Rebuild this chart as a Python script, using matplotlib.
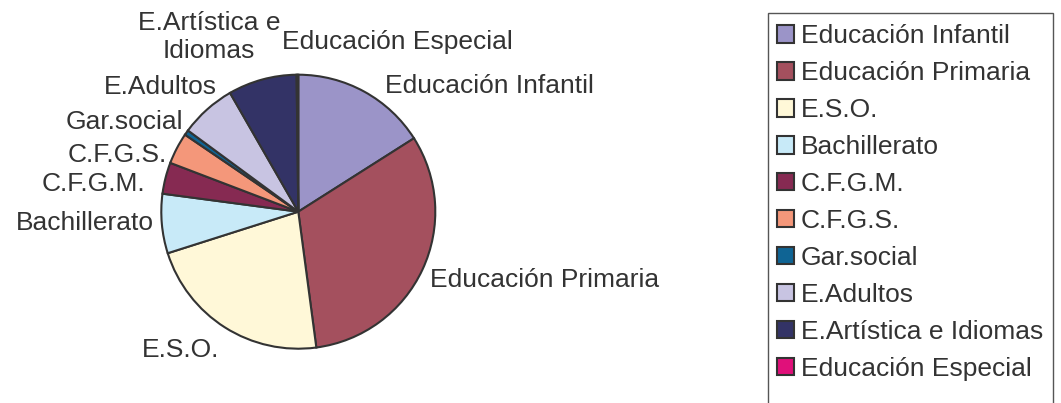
import matplotlib.pyplot as plt
from matplotlib.patches import Rectangle

plt.rcParams['font.family'] = ['Liberation Sans', 'DejaVu Sans']

categorias = ['Educación Infantil', 'Educación Primaria', 'E.S.O.', 'Bachillerato',
              'C.F.G.M.', 'C.F.G.S.', 'Gar.social', 'E.Adultos',
              'E.Artística e Idiomas', 'Educación Especial']
valores = [16.0, 31.9, 22.2, 7.0, 3.7, 3.7, 0.6, 6.6, 8.1, 0.2]
colores = ['#9b94c8', '#a4505e', '#fff8d8', '#c8eaf8', '#862a52',
           '#f4977a', '#0f6494', '#c8c4e2', '#333366', '#e0107a']
etiquetas = ['Educación Infantil', 'Educación Primaria', 'E.S.O.', 'Bachillerato',
             'C.F.G.M.', 'C.F.G.S.', 'Gar.social', 'E.Adultos',
             'E.Artística e\nIdiomas', 'Educación Especial']

# label placement (pie radius = 1), layout only
pos_etq = [(0.633, 0.918, 'left'), (0.961, -0.499, 'left'), (-0.858, -1.009, 'center'),
           (-1.053, -0.085, 'right'), (-1.119, 0.200, 'right'), (-0.961, 0.414, 'right'),
           (-0.839, 0.657, 'right'), (-0.596, 0.912, 'right'), (-0.652, 1.274, 'center'),
           (-0.121, 1.241, 'left')]

W, H = 1061, 403
fig = plt.figure(figsize=(W / 100, H / 100), dpi=100)
cx, cy, r = 298.3, 211.7, 137
ax = fig.add_axes([(cx - r) / W, (H - cy - r) / H, 2 * r / W, 2 * r / H])

wedges, _ = ax.pie(valores, colors=colores, startangle=90, counterclock=False,
                   radius=1, wedgeprops=dict(edgecolor='#333333', linewidth=1.5))
ax.set_xlim(-1, 1)
ax.set_ylim(-1, 1)
ax.set_aspect('equal')
ax.axis('off')
for w in wedges:
    w.set_clip_on(False)

txt = '#333333'
for lab, (x, y, ha) in zip(etiquetas, pos_etq):
    ax.text(x, y, lab, ha=ha, va='center', fontsize=19, color=txt,
            multialignment='center', linespacing=1.18, clip_on=False)

leg = fig.legend(wedges, categorias, loc='upper left',
                 bbox_to_anchor=(768 / W, 1 - 15 / H), fontsize=19,
                 frameon=True, fancybox=False, borderpad=0.35,
                 handlelength=0.65, handleheight=0.65, handletextpad=0.25,
                 labelspacing=0.49, borderaxespad=0)
leg.get_frame().set_visible(False)
for t in leg.get_texts():
    t.set_color(txt)
for h in leg.legend_handles:
    h.set_edgecolor('#333333')
    h.set_linewidth(1.5)

# legend box runs off the bottom edge as in the original
fig.patches.append(Rectangle((768 / W, -0.05), (1053 - 768) / W, 1 - 13 / H + 0.05,
                             transform=fig.transFigure, fill=False,
                             edgecolor='#555555', linewidth=1.0))

fig.savefig('out.png', dpi=100)
